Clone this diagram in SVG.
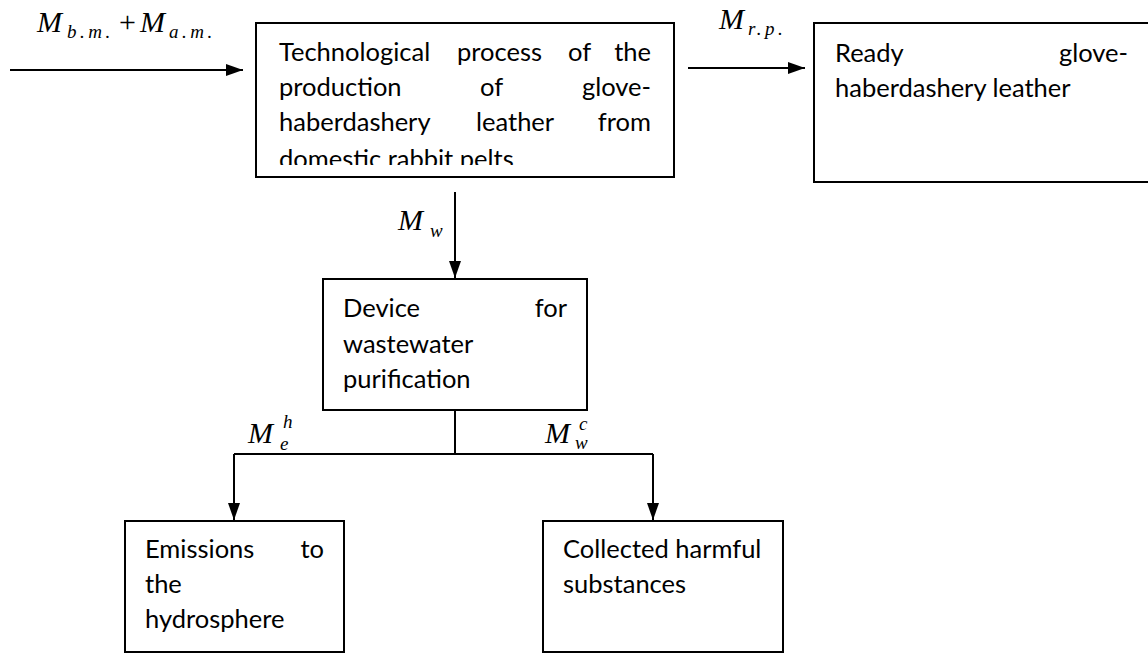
<svg xmlns="http://www.w3.org/2000/svg" width="1148" height="653" viewBox="0 0 1148 653">
  <style>
    .box { fill: #ffffff; stroke: #000000; stroke-width: 2; }
    .txt { font-family: Lato, "Liberation Sans", sans-serif; font-size: 25.5px; fill: #000000; }
    .end { text-anchor: end; }
    .conn { fill: none; stroke: #000000; stroke-width: 2; }
    .mi { font-family: "Liberation Serif", "Times New Roman", serif; font-style: italic; fill: #000000; }
    .big { font-size: 30px; }
    .sub { font-size: 19px; letter-spacing: 3.5px; }
    .op { font-family: "Liberation Serif", "Times New Roman", serif; font-size: 30px; fill: #000000; }
  </style>
  <defs>
    <marker id="arrow" markerUnits="userSpaceOnUse" markerWidth="17" markerHeight="12" refX="17" refY="6" orient="auto">
      <path d="M0,0 L17,6 L0,12 z" fill="#000000"/>
    </marker>
    <clipPath id="clipMain">
      <rect x="256" y="23" width="418" height="142"/>
    </clipPath>
  </defs>
  <rect width="1148" height="653" fill="#ffffff"/>

  <!-- connectors -->
  <g id="connectors">
    <path class="conn" d="M10,70 H243" marker-end="url(#arrow)"/>
    <path class="conn" d="M688,68 H805" marker-end="url(#arrow)"/>
    <path class="conn" d="M455,192 V278" marker-end="url(#arrow)"/>
    <path class="conn" d="M455,410 V454"/>
    <path class="conn" d="M234,454 H653"/>
    <path class="conn" d="M234,454 V520" marker-end="url(#arrow)"/>
    <path class="conn" d="M653,454 V520" marker-end="url(#arrow)"/>
  </g>

  <!-- flow labels -->
  <g id="labels">
    <text class="mi big" x="37" y="32">M</text>
    <text class="mi sub" x="67" y="38">b.m.</text>
    <text class="op" x="119" y="32">+</text>
    <text class="mi big" x="140" y="32">M</text>
    <text class="mi sub" x="169" y="38">a.m.</text>

    <text class="mi big" x="719" y="29">M</text>
    <text class="mi sub" x="748" y="35">r.p.</text>

    <text class="mi big" x="398" y="230">M</text>
    <text class="mi sub" x="430" y="237">w</text>

    <text class="mi big" x="248" y="443">M</text>
    <text class="mi sub" x="283" y="428">h</text>
    <text class="mi sub" x="280" y="450">e</text>

    <text class="mi big" x="545" y="443">M</text>
    <text class="mi sub" x="579" y="430">c</text>
    <text class="mi sub" x="575" y="449">w</text>
  </g>

  <!-- process node -->
  <g id="process">
    <rect class="box" x="256" y="23" width="418" height="154"/>
    <g clip-path="url(#clipMain)">
      <text class="txt" x="279" y="61">Technological</text>
      <text class="txt" x="457" y="61">process</text>
      <text class="txt" x="568" y="61">of</text>
      <text class="txt end" x="651" y="61">the</text>
      <text class="txt" x="279" y="96">production</text>
      <text class="txt" x="480" y="96">of</text>
      <text class="txt end" x="651" y="96">glove-</text>
      <text class="txt" x="279" y="131">haberdashery</text>
      <text class="txt" x="476" y="131">leather</text>
      <text class="txt end" x="651" y="131">from</text>
      <text class="txt" x="279" y="168">domestic rabbit pelts</text>
    </g>
  </g>

  <!-- product node -->
  <g id="product">
    <rect class="box" x="814" y="23" width="340" height="159"/>
    <text class="txt" x="835" y="62">Ready</text>
    <text class="txt end" x="1128" y="62">glove-</text>
    <text class="txt" x="835" y="97">haberdashery leather</text>
  </g>

  <!-- purification node -->
  <g id="purification">
    <rect class="box" x="323" y="279" width="264" height="131"/>
    <text class="txt" x="343" y="317">Device</text>
    <text class="txt end" x="567" y="317">for</text>
    <text class="txt" x="343" y="353">wastewater</text>
    <text class="txt" x="343" y="388">purification</text>
  </g>

  <!-- emissions node -->
  <g id="emissions">
    <rect class="box" x="125" y="521" width="219" height="131"/>
    <text class="txt" x="145" y="558">Emissions</text>
    <text class="txt end" x="324" y="558">to</text>
    <text class="txt" x="145" y="593">the</text>
    <text class="txt" x="145" y="628">hydrosphere</text>
  </g>

  <!-- collected node -->
  <g id="collected">
    <rect class="box" x="543" y="521" width="240" height="131"/>
    <text class="txt" x="563" y="558">Collected harmful</text>
    <text class="txt" x="563" y="593">substances</text>
  </g>
</svg>
